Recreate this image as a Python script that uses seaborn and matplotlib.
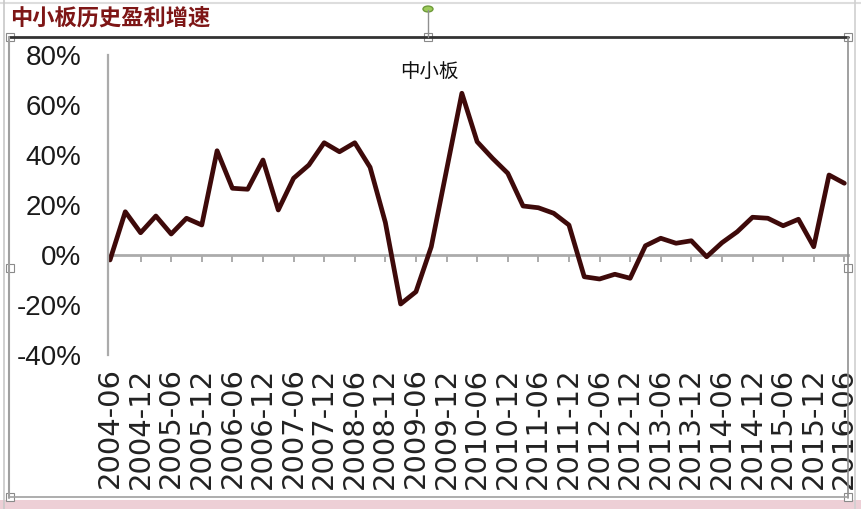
import matplotlib
matplotlib.use('Agg')
import matplotlib.pyplot as plt
import pandas as pd
import seaborn as sns
from matplotlib.lines import Line2D
from matplotlib.patches import Rectangle, Circle

# quarterly labels 2004-06 .. 2016-06
quarters = [f"{y}-{m}" for y in range(2004, 2017) for m in ('03', '06', '09', '12')]
quarters = quarters[quarters.index('2004-06'):quarters.index('2016-06') + 1]

# profit growth of the SME board (%)
growth = [-2, 17.3, 8.9, 15.6, 8.4, 14.7, 12, 41.7, 26.7, 26.3,
          38, 18, 30.7, 36, 44.9, 41.3, 44.9, 35.1, 13, -19.6,
          -14.7, 3.3, 34, 64.7, 45.3, 38.7, 32.7, 19.6, 18.9, 16.7,
          12, -8.7, -9.6, -7.7, -9.3, 3.7, 6.7, 4.7, 5.7, -0.7,
          4.9, 9.3, 15.1, 14.7, 11.7, 14.3, 3.3, 32, 28.7]

y_ticks = [-40, -20, 0, 20, 40, 60, 80]
title = '中小板历史盈利增速'
series_name = '中小板'

df = pd.DataFrame({'idx': range(len(quarters)), 'quarter': quarters, 'growth': growth})

sns.set_style('white')
plt.rcParams['font.family'] = ['Liberation Sans', 'Noto Sans CJK SC', 'DejaVu Sans']

W, H = 862, 509
def px(x):
    return x / W
def py(y):
    return 1 - y / H

fig = plt.figure(figsize=(W / 100, H / 100), dpi=100)
ax = fig.add_axes([px(108), py(355), (848 - 108) / W, 300 / H])

sns.lineplot(data=df, x='idx', y='growth', ax=ax, color='#3E0A0A', linewidth=3.4)

ax.set_ylim(y_ticks[0], y_ticks[-1])
ax.set_xlim(-0.13, len(quarters) - 1 + 0.24)
ax.set_xlabel('')
ax.set_ylabel('')

grey = '#ABABAB'
for s in ['top', 'right', 'bottom']:
    ax.spines[s].set_visible(False)
ax.spines['left'].set_color(grey)
ax.spines['left'].set_linewidth(1.6)

ax.set_yticks(y_ticks)
ax.set_yticklabels([f'{v}%' for v in y_ticks], fontsize=20, color='#1A1A1A')
ax.tick_params(axis='y', direction='out', length=6, width=1.4, color=grey, pad=13)

# category labels at the bottom, every second quarter
ax.set_xticks(df['idx'][::2])
ax.set_xticklabels(df['quarter'][::2], rotation=90, fontsize=21,
                   family='DejaVu Sans', color='#222222')
ax.tick_params(axis='x', length=0, pad=9)

# zero axis with its tick marks
zero_pos = (0 - y_ticks[0]) / (y_ticks[-1] - y_ticks[0])
sec = ax.secondary_xaxis(zero_pos)
sec.set_xticks(df['idx'][::2])
sec.set_xticklabels([])
sec.tick_params(axis='x', direction='out', length=5, width=1.4, color=grey)
sec.spines['bottom'].set_color(grey)
sec.spines['bottom'].set_linewidth(2)

fig.text(px(429), py(71), series_name, fontsize=14, ha='center', va='center',
         color='#111111', family=['Noto Sans CJK SC'])
fig.text(px(10), py(18), title, fontsize=16, ha='left', va='center',
         color='#7E1616', family=['Noto Sans CJK SC'], fontweight='bold')

# frame of the embedded chart
def fline(x0, y0, x1, y1, color, lw):
    fig.add_artist(Line2D([px(x0), px(x1)], [py(y0), py(y1)],
                          transform=fig.transFigure, color=color, linewidth=lw))

fline(0, 3, W, 3, '#DDDDDD', 1.5)
fline(9, 37, 848, 37, '#333333', 2)
fline(9, 37, 9, 498, '#A0A0A0', 1.5)
fline(4, 0, 4, 509, '#C8C8C8', 1.2)
fline(848, 37, 848, 498, '#909090', 1.2)
fline(855, 0, 855, 509, '#D0D0D0', 1.2)
fline(9, 497, 848, 497, '#A0A0A0', 1.2)
fig.add_artist(Rectangle((0, 0), 1, py(500), transform=fig.transFigure,
                         facecolor='#EDCFD6', edgecolor='none'))
fline(428, 10, 428, 37, '#909090', 1)
fig.add_artist(Circle((px(428), py(9)), 5 / W, transform=fig.transFigure,
                      facecolor='#9CCB5A', edgecolor='#6E9A3A'))
for hx, hy in [(10, 37), (428, 37), (848, 37), (10, 268), (848, 268), (10, 497), (848, 497)]:
    fig.add_artist(Rectangle((px(hx - 4), py(hy + 4)), 8 / W, 8 / H,
                             transform=fig.transFigure, facecolor='white',
                             edgecolor='#8A8A8A', linewidth=0.8))

fig.savefig('out.png', dpi=100)
